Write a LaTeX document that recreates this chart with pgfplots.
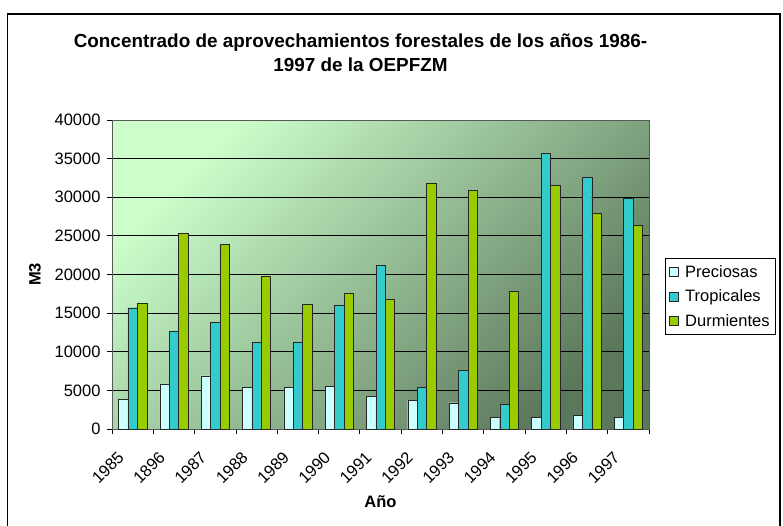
\documentclass[border=0pt]{standalone}
\usepackage{fontspec}
\setmainfont{Liberation Sans}
\usepackage{pgfplots}
\pgfplotsset{compat=1.18}
\definecolor{cPre}{HTML}{CCFFFF}
\definecolor{cTro}{HTML}{33CCCC}
\definecolor{cDur}{HTML}{99CC00}
\definecolor{bgA}{HTML}{CCFFCC}
\definecolor{bgB}{HTML}{5C785C}
\newcommand{\tfont}{\fontsize{16.5}{19.8}\selectfont}
\begin{document}
\begin{tikzpicture}[x=1pt,y=1pt]
\useasboundingbox (0,0) rectangle (783,525);
\draw[line width=1.3pt] (7.5,-10) rectangle (780,511);
\node[anchor=base, font=\bfseries\fontsize{18.9}{22}\selectfont, inner sep=0pt] at (360.5,477) {Concentrado de aprovechamientos forestales de los años 1986-};
\node[anchor=base, font=\bfseries\fontsize{18.9}{22}\selectfont, inner sep=0pt] at (360.5,453) {1997 de la OEPFZM};
\begin{axis}[
  at={(112pt,96pt)}, anchor=south west,
  width=537pt, height=309pt, scale only axis,
  xmin=-0.5, xmax=12.5, ymin=0, ymax=40000,
  ytick={0,5000,...,40000},
  scaled y ticks=false,
  yticklabel style={/pgf/number format/fixed, /pgf/number format/1000 sep={}, xshift=-3pt},
  xtick={0,...,12},
  xticklabels={1985,1896,1987,1988,1989,1990,1991,1992,1993,1994,1995,1996,1997},
  minor xtick={-0.5,0.5,...,12.5},
  xtick pos=bottom, ytick pos=left,
  /pgf/number format/assume math mode=true,
  tick label style={font=\tfont},
  xticklabel style={xshift=-11pt, yshift=-20pt, rotate=45, anchor=east, inner sep=1pt},
  tick align=outside,
  major tick length=5pt, minor tick length=5pt,
  tick style={black, line width=0.8pt},
  major x tick style={draw=none},
  ymajorgrids,
  major grid style={black, line width=0.8pt},
  axis line style={draw=gray!70!black, line width=0.8pt},
  axis background/.style={shade, top color=bgA, bottom color=bgB, shading angle=45},
  ybar=0pt, bar width=9.4pt,
  ylabel={\bfseries M3},
  ylabel style={font=\tfont, at={(axis description cs:-0.1434,0.5)}, anchor=center},
  xlabel={\bfseries Año},
  xlabel style={font=\tfont, at={(axis description cs:0.5,-0.236)}, anchor=center},
  legend style={at={(axis description cs:1.0298,0.5534)}, anchor=north west, draw=black, line width=0.8pt, font=\tfont, inner xsep=4pt, inner ysep=5pt, fill=white, row sep=7pt, /tikz/every odd column/.append style={column sep=4pt}},
  legend cell align=left,
  legend image code/.code={\draw[#1, line width=0.8pt] (0pt,-4.5pt) rectangle (9pt,4.5pt);},
]
\addplot[fill=cPre, draw=black!85] coordinates {(0,3800) (1,5850) (2,6900) (3,5350) (4,5350) (5,5500) (6,4200) (7,3700) (8,3400) (9,1500) (10,1500) (11,1800) (12,1500)};
\addplot[fill=cTro, draw=black!85] coordinates {(0,15700) (1,12700) (2,13800) (3,11200) (4,11200) (5,16000) (6,21200) (7,5350) (8,7600) (9,3200) (10,35700) (11,32600) (12,29900)};
\addplot[fill=cDur, draw=black!85] coordinates {(0,16300) (1,25300) (2,23900) (3,19800) (4,16100) (5,17600) (6,16800) (7,31800) (8,30900) (9,17800) (10,31500) (11,27900) (12,26400)};
\legend{Preciosas,Tropicales,Durmientes}
\end{axis}
\end{tikzpicture}
\end{document}
